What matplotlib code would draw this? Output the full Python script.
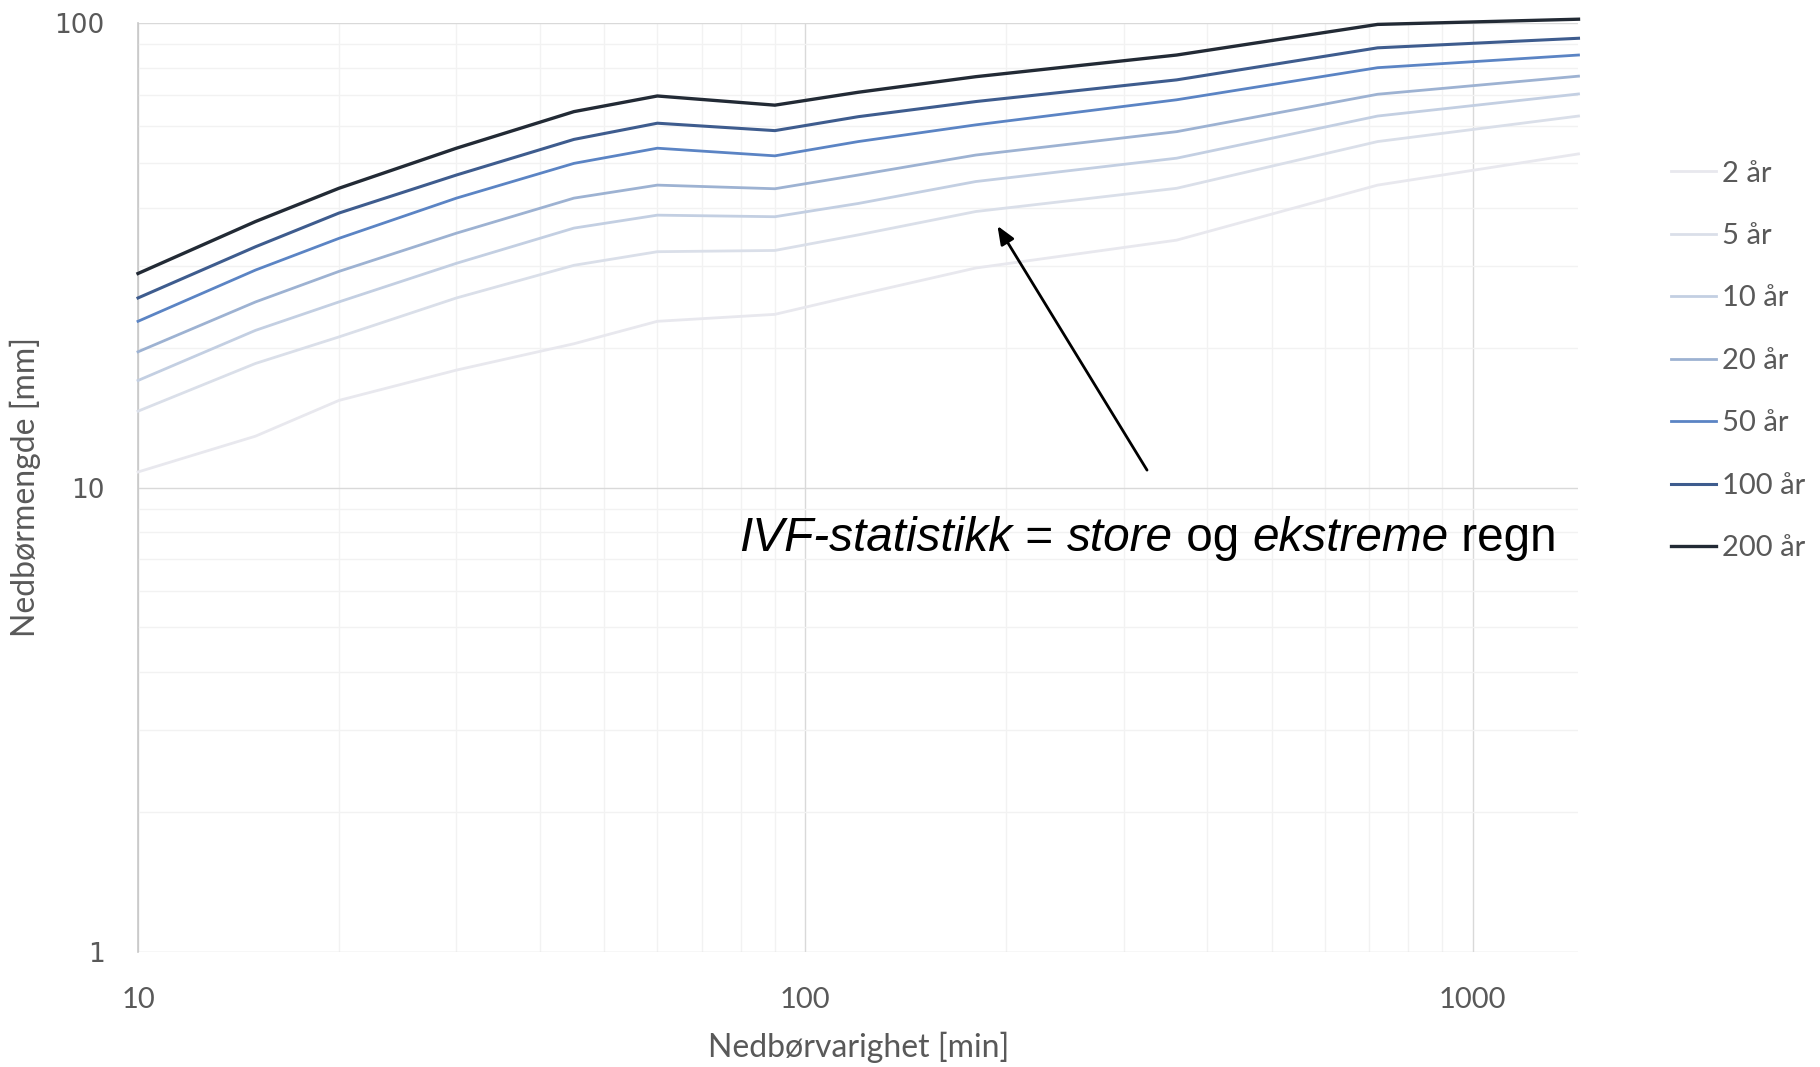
import matplotlib
matplotlib.use("Agg")
import matplotlib.pyplot as plt
from matplotlib.ticker import FixedLocator, NullFormatter, LogLocator

# ---- data ----
durations = [10, 15, 20, 30, 45, 60, 90, 120, 180, 360, 720, 1440]
series_labels = ["2 år", "5 år", "10 år", "20 år", "50 år", "100 år", "200 år"]
v2 = [10.8, 12.9, 15.4, 17.9, 20.4, 22.8, 23.6, 26.0, 29.7, 34.1, 44.8, 52.3]
v5 = [14.6, 18.5, 21.1, 25.6, 30.1, 32.2, 32.4, 35.0, 39.3, 44.1, 55.6, 63.1]
v10 = [17.0, 21.8, 25.1, 30.4, 36.2, 38.6, 38.3, 40.9, 45.6, 51.2, 63.1, 70.4]
v20 = [19.6, 25.1, 29.2, 35.3, 42.0, 44.8, 44.0, 47.1, 52.0, 58.4, 70.3, 76.9]
v50 = [22.8, 29.4, 34.4, 42.0, 49.9, 53.8, 51.8, 55.6, 60.4, 68.4, 80.2, 85.4]
v100 = [25.6, 33.0, 39.0, 47.1, 56.2, 60.9, 58.7, 62.9, 67.8, 75.5, 88.5, 92.8]
v200 = [28.9, 37.4, 44.1, 53.8, 64.5, 69.7, 66.6, 71.0, 76.7, 85.4, 99.4, 102.0]
series_values = [v2, v5, v10, v20, v50, v100, v200]
series_colors = ["#e8e8ee", "#dadfe9", "#c3cfe2", "#9db2d2", "#5b84c4", "#3e5c8e", "#222a35"]
series_widths = [2.0, 2.0, 2.0, 2.0, 2.0, 2.2, 2.4]

xticks = [10, 100, 1000]
xtick_labels = ["10", "100", "1000"]
yticks = [1, 10, 100]
ytick_labels = ["1", "10", "100"]
xlabel = "Nedbørvarighet [min]"
ylabel = "Nedbørmengde [mm]"
annot_pieces = [("IVF-statistikk", "italic"), (" = ", "normal"), ("store", "italic"),
                (" og ", "normal"), ("ekstreme", "italic"), (" regn", "normal")]
arrow_tip = (194, 36.6)
arrow_tail = (325, 10.9)

W, H = 1820, 1067
fig = plt.figure(figsize=(W / 100, H / 100), dpi=100)
fig.patch.set_facecolor("white")
ax = fig.add_axes([138 / W, 1 - 951.8 / H, (1578.5 - 138) / W, (951.8 - 23.2) / H])
ax.set_xscale("log")
ax.set_yscale("log")
ax.set_xlim(10, 1440)
ax.set_ylim(1, 100)

lines = []
for lab, vals, col, lw in zip(series_labels, series_values, series_colors, series_widths):
    ln, = ax.plot(durations, vals, color=col, lw=lw, label=lab, clip_on=False,
                  solid_joinstyle="round", zorder=3)
    lines.append(ln)

# grid
ax.xaxis.set_major_locator(FixedLocator(xticks))
ax.yaxis.set_major_locator(FixedLocator(yticks))
ax.xaxis.set_minor_locator(LogLocator(base=10, subs=range(2, 10)))
ax.yaxis.set_minor_locator(LogLocator(base=10, subs=range(2, 10)))
ax.xaxis.set_minor_formatter(NullFormatter())
ax.yaxis.set_minor_formatter(NullFormatter())
ax.grid(True, which="major", color="#d9d9d9", lw=1.0, zorder=0)
ax.grid(True, which="minor", color="#f2f2f2", lw=1.0, zorder=0)
ax.set_axisbelow(True)
for s in ["top", "right", "bottom"]:
    ax.spines[s].set_visible(False)
ax.spines["left"].set_color("#c8c8c8")
ax.spines["left"].set_linewidth(1.2)
ax.tick_params(which="both", length=0)

ax.set_xticklabels(xtick_labels, fontfamily="Lato", fontsize=21, color="#595959")
ax.set_yticklabels(ytick_labels, fontfamily="DejaVu Sans", fontsize=19, color="#595959")
ax.tick_params(axis="x", pad=25)
ax.tick_params(axis="y", pad=24)

fig.text(859 / W, 1 - 1047 / H, xlabel, ha="center", va="center",
         fontfamily="Lato", fontsize=23, color="#595959")
fig.text(25.5 / W, 1 - 487 / H, ylabel, ha="center", va="center", rotation=90,
         fontfamily="Lato", fontsize=23, color="#595959")

# legend
leg = fig.legend(handles=lines, labels=series_labels, loc="upper left",
                 bbox_to_anchor=(1671 / W, 1 - 160.5 / H), frameon=False,
                 prop={"family": "Lato", "size": 21}, labelcolor="#595959",
                 handlelength=1.55, handletextpad=0.2, labelspacing=1.25,
                 borderaxespad=0, borderpad=0)

# annotation arrow
ax.annotate("", xy=arrow_tip, xytext=arrow_tail,
            arrowprops=dict(arrowstyle="-|>,head_length=1.1,head_width=0.45",
                            color="black", lw=2.0, shrinkA=0, shrinkB=0), zorder=5)

# mixed-style annotation text (pieces chained left to right, shared baseline)
base_y = 1 - 551 / H
pieces = []
for txt, st in annot_pieces:
    t = fig.text(0, base_y, txt, style=st, fontfamily="Liberation Sans", fontsize=34.4,
                 color="black", ha="left", va="baseline")
    pieces.append(t)

fig.canvas.draw()
renderer = fig.canvas.get_renderer()
x_px = 739
for t in pieces:
    t.set_position((x_px / W, base_y))
    x_px += t.get_window_extent(renderer).width

fig.savefig("out.png", dpi=100, facecolor="white")
